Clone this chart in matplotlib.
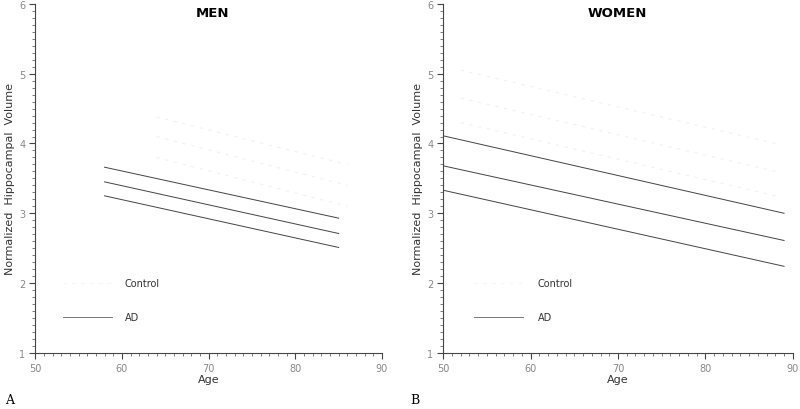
import numpy as np
import matplotlib.pyplot as plt
from matplotlib.ticker import MultipleLocator

# regression lines (age endpoints, upper / fit / lower)
men_age = [58, 85]
men_ad_upper = [3.66, 2.93]
men_ad_fit = [3.45, 2.71]
men_ad_lower = [3.25, 2.51]
men_ctl_age = [64, 86]
men_ctl_upper = [4.38, 3.70]
men_ctl_fit = [4.10, 3.40]
men_ctl_lower = [3.80, 3.10]

women_age = [50, 89]
women_ad_upper = [4.11, 3.00]
women_ad_fit = [3.68, 2.61]
women_ad_lower = [3.33, 2.24]
women_ctl_age = [52, 88]
women_ctl_upper = [5.05, 4.00]
women_ctl_fit = [4.65, 3.60]
women_ctl_lower = [4.30, 3.25]

titles = ["MEN", "WOMEN"]
panel_tags = ["A", "B"]

fig = plt.figure(figsize=(8, 4.1), dpi=100)
ax1 = fig.add_axes([0.044, 0.137, 0.4335, 0.851])
ax2 = fig.add_axes([0.554, 0.137, 0.437, 0.851])

panels = [
    (ax1, men_age, (men_ad_upper, men_ad_fit, men_ad_lower),
     men_ctl_age, (men_ctl_upper, men_ctl_fit, men_ctl_lower), (53.2, 58.9, 60.3)),
    (ax2, women_age, (women_ad_upper, women_ad_fit, women_ad_lower),
     women_ctl_age, (women_ctl_upper, women_ctl_fit, women_ctl_lower), (53.5, 59.1, 60.8)),
]

for i, (ax, age, ad, cage, ctl, leg) in enumerate(panels):
    # control lines are barely visible in the original print
    for ys in ctl:
        ax.plot(cage, ys, color="#f1f1f1", lw=0.8, ls=(0, (3, 5)))
    for ys in ad:
        ax.plot(age, ys, color="#444444", lw=0.7)

    # legend drawn inside the axes like the original
    ax.plot([leg[0], leg[1]], [2.0, 2.0], color="#f6f6f6", lw=0.8, ls=(0, (3, 5)))
    ax.text(leg[2], 2.0, "Control", fontsize=7, color="#333333", va="center")
    ax.plot([leg[0], leg[1]], [1.52, 1.52], color="#777777", lw=0.7)
    ax.text(leg[2], 1.52, "AD", fontsize=7, color="#333333", va="center")

    ax.set_xlim(50, 90)
    ax.set_ylim(1, 6)
    ax.xaxis.set_major_locator(MultipleLocator(10))
    ax.xaxis.set_minor_locator(MultipleLocator(1))
    ax.yaxis.set_major_locator(MultipleLocator(1))
    ax.yaxis.set_minor_locator(MultipleLocator(0.1))
    ax.tick_params(which="major", length=4, width=0.8, color="#444444",
                   labelsize=7, labelcolor="#888888", pad=3)
    ax.tick_params(which="minor", length=2, width=0.6, color="#666666")
    for s in ["top", "right"]:
        ax.spines[s].set_visible(False)
    for s in ["left", "bottom"]:
        ax.spines[s].set_linewidth(0.8)
        ax.spines[s].set_color("#444444")

    ax.set_xlabel("Age", fontsize=8, color="#333333", labelpad=1)
    ax.set_ylabel("Normalized  Hippocampal  Volume", fontsize=8, color="#333333", labelpad=3)

fig.text(0.266, 0.966, titles[0], fontsize=9.5, fontweight="bold", ha="center", va="center")
fig.text(0.771, 0.968, titles[1], fontsize=9.5, fontweight="bold", ha="center", va="center")

fig.text(0.006, 0.015, panel_tags[0], fontsize=9, family="DejaVu Serif")
fig.text(0.513, 0.015, panel_tags[1], fontsize=9, family="DejaVu Serif")

fig.savefig("out.png", dpi=100)
